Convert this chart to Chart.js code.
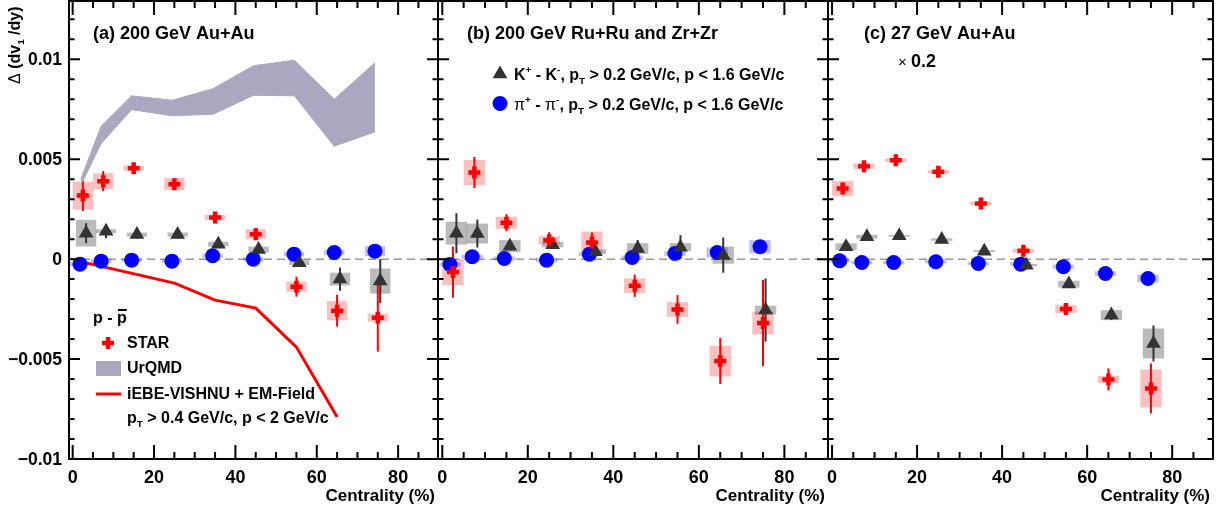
<!DOCTYPE html>
<html>
<head>
<meta charset="utf-8">
<script src="https://cdn.jsdelivr.net/npm/chart.js@4/dist/chart.umd.min.js"></script>
<style>
  html, body { margin: 0; padding: 0; background: #fff; }
  #wrap { position: relative; width: 1226px; height: 514px; }
  canvas { position: absolute; left: 0; top: 0; }
</style>
</head>
<body>
<div id="wrap">
  <canvas id="pa" width="1226" height="514"></canvas>
  <canvas id="pb" width="1226" height="514"></canvas>
  <canvas id="pc" width="1226" height="514"></canvas>
</div>
<script>
// centrality (%) of each species (slightly shifted like in the figure)
const centP  = [2.5, 7.5, 15, 25, 35, 45, 55, 65, 75];
const centK  = [3.3, 8.2, 15.8, 25.8, 35.8, 45.7, 55.7, 65.7, 75.6];
const centPi = [1.8, 7, 14.5, 24.4, 34.4, 44.4, 54.4, 64.3, 74.3];

// (a) 200 GeV Au+Au
const protonA     = [0.00318, 0.0039, 0.00455, 0.00375, 0.00208, 0.00125, -0.00138, -0.00258, -0.00293];
const protonAStat = [0.00077, 0.0005, 0.0002, 0.0002, 0.0002, 0.0003, 0.0005, 0.0008, 0.0017];
const protonASys  = [0.0007, 0.0004, 0.00013, 0.0003, 0.00013, 0.00025, 0.00025, 0.00048, 0.0002];
const kaonA       = [0.0013, 0.0014, 0.00123, 0.00123, 0.00075, 0.00048, -0.00018, -0.001, -0.0011];
const kaonAStat   = [0.0005, 0.00035, 0.0002, 0.0002, 0.0002, 0.0002, 0.0002, 0.00058, 0.0011];
const kaonASys    = [0.00067, 0.0001, 0.0001, 0.0001, 0.00012, 0.00015, 0.00012, 0.00032, 0.00063];
const pionA       = [-0.00025, -0.0001, -0.00005, -0.0001, 0.00017, 0.0, 0.00025, 0.00033, 0.0004];
const pionAStat   = [0.0001, 0.0001, 0.0001, 0.0001, 0.0001, 0.0001, 0.0001, 0.0001, 0.0001];
const pionASys    = [0.0001, 0.0001, 0.00008, 0.00008, 0.0001, 0.0001, 0.00012, 0.00012, 0.00025];

const urqmdCent = [2, 7, 14.5, 24.5, 34.5, 44.5, 54.5, 64.3, 74.3];
const urqmdHigh = [0.0040, 0.00665, 0.00817, 0.00795, 0.00853, 0.00968, 0.00995, 0.008, 0.00983];
const urqmdLow  = [0.0037, 0.00578, 0.00748, 0.00717, 0.00725, 0.0082, 0.00817, 0.00565, 0.00637];

const vishnuCent = [2.5, 25, 35, 45, 55, 65];
const vishnuVal  = [-0.00015, -0.0012, -0.00205, -0.00245, -0.0044, -0.0079];

// (b) 200 GeV Ru+Ru and Zr+Zr
const protonB     = [-0.00065, 0.00433, 0.00182, 0.00095, 0.00083, -0.00133, -0.00252, -0.0051, -0.0032];
const protonBStat = [0.00128, 0.00078, 0.00043, 0.0004, 0.0005, 0.00056, 0.00072, 0.00115, 0.00215];
const protonBSys  = [0.00065, 0.00063, 0.0003, 0.0002, 0.00055, 0.00037, 0.00037, 0.00077, 0.00057];
const kaonB       = [0.0013, 0.00128, 0.00065, 0.00072, 0.00037, 0.00053, 0.0006, 0.0002, -0.00255];
const kaonBStat   = [0.001, 0.0007, 0.0002, 0.0002, 0.0002, 0.00042, 0.0006, 0.00088, 0.00158];
const kaonBSys    = [0.00057, 0.0005, 0.0003, 0.00013, 0.00012, 0.00027, 0.0002, 0.00043, 0.00022];
const pionB       = [-0.00027, 0.00012, 0.00003, -0.00005, 0.00025, 0.00008, 0.00028, 0.00033, 0.00062];
const pionBStat   = [0.0001, 0.0001, 0.0001, 0.0001, 0.0001, 0.0001, 0.0001, 0.00015, 0.00035];
const pionBSys    = [0.0001, 0.0001, 0.0001, 0.0001, 0.0001, 0.0001, 0.00012, 0.00025, 0.00033];

// (c) 27 GeV Au+Au (x 0.2)
const protonC     = [0.00353, 0.00465, 0.00495, 0.00437, 0.00278, 0.00042, -0.0025, -0.00602, -0.00647];
const protonCStat = [0.0002, 0.0002, 0.0002, 0.0002, 0.0002, 0.0002, 0.0003, 0.00055, 0.00125];
const protonCSys  = [0.00038, 0.00013, 0.0001, 0.00008, 0.00008, 0.0001, 0.0002, 0.00018, 0.00095];
const kaonC       = [0.00062, 0.00112, 0.00117, 0.00098, 0.0004, -0.0003, -0.00125, -0.0028, -0.00422];
const kaonCStat   = [0.0001, 0.0001, 0.0001, 0.0001, 0.0001, 0.0001, 0.0001, 0.00025, 0.0009];
const kaonCSys    = [0.00017, 0.0001, 0.00004, 0.00006, 0.00005, 0.00006, 0.00017, 0.00025, 0.00075];
const pionC       = [-0.00008, -0.00017, -0.00017, -0.00013, -0.00022, -0.00025, -0.00038, -0.00072, -0.00097];
const pionCStat   = [0.0001, 0.0001, 0.0001, 0.0001, 0.0001, 0.0001, 0.0001, 0.0001, 0.0001];
const pionCSys    = [0.00008, 0.00008, 0.00008, 0.00008, 0.00008, 0.0001, 0.0001, 0.00012, 0.0002];

// axes
const xMajor = [0, 20, 40, 60, 80];
const xMajorLabels = ['0', '20', '40', '60', '80'];
const xMinor = [5, 10, 15, 25, 30, 35, 45, 50, 55, 65, 70, 75, 85];
const yMajor = [-0.01, -0.005, 0, 0.005, 0.01];
const yMajorLabels = ['\u22120.01', '\u22120.005', '0', '0.005', '0.01'];
const yMinor = [-0.009, -0.008, -0.007, -0.006, -0.004, -0.003, -0.002, -0.001,
                0.001, 0.002, 0.003, 0.004, 0.006, 0.007, 0.008, 0.009, 0.011, 0.012];
const yMin = -0.01, yMax = 0.012915;

const FONT = '"Liberation Sans", Arial, Helvetica, sans-serif';
const RED = '#ff0000', DARK = '#333333', BLUE = '#0000ff', URQMD = '#aaa7c1';
const boxHalf = 2.5;

function pts(xs, ys) { return xs.map((x, i) => ({ x: x, y: ys[i] })); }

function richText(ctx, x, y, segs, size) {
  let cx = x;
  segs.forEach(s => {
    const small = s.sub || s.sup;
    const fs = small ? size * 0.62 : size;
    ctx.font = (s.normal ? '' : 'bold ') + fs + 'px ' + FONT;
    const dy = s.sub ? size * 0.28 : s.sup ? -size * 0.42 : 0;
    ctx.fillText(s.t, cx, y + dy);
    cx += ctx.measureText(s.t).width;
  });
  return cx;
}

function drawTriangle(ctx, x, y, r) {
  ctx.beginPath();
  for (let k = 0; k < 3; k++) {
    const a = k * 2 * Math.PI / 3;
    const px = x + Math.sin(a) * r, py = y - Math.cos(a) * r;
    if (k === 0) ctx.moveTo(px, py); else ctx.lineTo(px, py);
  }
  ctx.closePath();
  ctx.fill();
}

function makeFramePlugin(panel) {
  return {
    id: 'frame',
    beforeDatasetsDraw(chart) {
      const { ctx, chartArea: a, scales: { x, y } } = chart;
      ctx.save();
      ctx.beginPath(); ctx.rect(a.left, a.top, a.width, a.height); ctx.clip();
      // dashed zero line
      const y0 = y.getPixelForValue(0);
      ctx.strokeStyle = '#999'; ctx.lineWidth = 1.5; ctx.setLineDash([8, 5]);
      ctx.beginPath(); ctx.moveTo(a.left, y0); ctx.lineTo(a.right, y0); ctx.stroke();
      ctx.setLineDash([]);
      // systematic boxes
      chart.data.datasets.forEach(ds => {
        if (!ds.sys) return;
        ctx.fillStyle = ds.boxColor;
        ds.data.forEach((p, i) => {
          const x0 = x.getPixelForValue(p.x - boxHalf), x1 = x.getPixelForValue(p.x + boxHalf);
          const yt = y.getPixelForValue(p.y + ds.sys[i]), yb = y.getPixelForValue(p.y - ds.sys[i]);
          ctx.fillRect(x0, yt, x1 - x0, yb - yt);
        });
      });
      // statistical error bars
      chart.data.datasets.forEach(ds => {
        if (!ds.stat) return;
        ctx.strokeStyle = ds.barColor; ctx.lineWidth = 2;
        ds.data.forEach((p, i) => {
          const px = x.getPixelForValue(p.x);
          ctx.beginPath();
          ctx.moveTo(px, y.getPixelForValue(p.y + ds.stat[i]));
          ctx.lineTo(px, y.getPixelForValue(p.y - ds.stat[i]));
          ctx.stroke();
        });
      });
      ctx.restore();
    },
    afterDraw(chart) {
      const { ctx, chartArea: a, scales: { x, y } } = chart;
      ctx.save();
      ctx.strokeStyle = '#000'; ctx.lineWidth = 2;
      ctx.beginPath();
      xMajor.forEach(v => {
        const px = x.getPixelForValue(v);
        ctx.moveTo(px, a.bottom); ctx.lineTo(px, a.bottom - 14);
        ctx.moveTo(px, a.top); ctx.lineTo(px, a.top + 14);
      });
      xMinor.forEach(v => {
        const px = x.getPixelForValue(v);
        ctx.moveTo(px, a.bottom); ctx.lineTo(px, a.bottom - 7);
        ctx.moveTo(px, a.top); ctx.lineTo(px, a.top + 7);
      });
      yMajor.forEach(v => {
        const py = y.getPixelForValue(v);
        ctx.moveTo(a.left, py); ctx.lineTo(a.left + 11, py);
        ctx.moveTo(a.right, py); ctx.lineTo(a.right - 11, py);
      });
      yMinor.forEach(v => {
        const py = y.getPixelForValue(v);
        ctx.moveTo(a.left, py); ctx.lineTo(a.left + 5.5, py);
        ctx.moveTo(a.right, py); ctx.lineTo(a.right - 5.5, py);
      });
      ctx.stroke();
      ctx.strokeRect(a.left, a.top, a.width, a.height);

      ctx.fillStyle = '#000';
      ctx.textBaseline = 'alphabetic';
      ctx.font = 'bold 18px ' + FONT;
      ctx.textAlign = 'center';
      xMajor.forEach((v, i) => ctx.fillText(xMajorLabels[i], x.getPixelForValue(v), 483));
      ctx.font = 'bold 17px ' + FONT;
      ctx.textAlign = 'right';
      ctx.fillText('Centrality (%)', a.right - 3, 501);

      if (panel.yLabels) {
        ctx.font = 'bold 17.5px ' + FONT;
        ctx.textBaseline = 'middle';
        yMajor.forEach((v, i) => ctx.fillText(yMajorLabels[i], a.left - 7, y.getPixelForValue(v) + 1));
        ctx.textBaseline = 'alphabetic';
        ctx.textAlign = 'left';
        ctx.save();
        ctx.translate(20, 84);
        ctx.rotate(-Math.PI / 2);
        richText(ctx, 0, 0, [{ t: '\u0394 ', normal: true }, { t: '(dv' }, { t: '1', sub: true }, { t: ' /dy)' }], 16);
        ctx.restore();
      }

      ctx.textAlign = 'left';
      ctx.textBaseline = 'alphabetic';
      ctx.font = 'bold 18px ' + FONT;
      ctx.fillText(panel.title, panel.titleX, 39);
      if (panel.extra) panel.extra(ctx);
      ctx.restore();
    }
  };
}

function legendA(ctx) {
  ctx.fillStyle = '#000';
  ctx.font = 'bold 16px ' + FONT;
  const w1 = ctx.measureText('p - ').width;
  const w2 = ctx.measureText('p').width;
  ctx.fillText('p - p', 93, 323);
  ctx.fillRect(93 + w1 + 1, 309, w2 - 1, 2);
  // STAR cross
  ctx.strokeStyle = RED; ctx.lineWidth = 4.5;
  ctx.beginPath();
  ctx.moveTo(102, 343); ctx.lineTo(114, 343);
  ctx.moveTo(108, 337); ctx.lineTo(108, 349);
  ctx.stroke();
  ctx.fillStyle = URQMD;
  ctx.fillRect(96, 361, 25, 15);
  ctx.strokeStyle = RED; ctx.lineWidth = 3;
  ctx.beginPath(); ctx.moveTo(96, 394); ctx.lineTo(121, 394); ctx.stroke();
  ctx.fillStyle = '#000';
  ctx.fillText('STAR', 127, 348);
  ctx.fillText('UrQMD', 127, 373);
  ctx.fillText('iEBE-VISHNU + EM-Field', 127, 399);
  richText(ctx, 127, 423, [{ t: 'p' }, { t: 'T', sub: true }, { t: ' > 0.4 GeV/c, p < 2 GeV/c' }], 16);
}

function legendB(ctx) {
  ctx.fillStyle = DARK;
  drawTriangle(ctx, 500, 74, 8.5);
  ctx.fillStyle = BLUE;
  ctx.beginPath(); ctx.arc(500, 103.5, 7.5, 0, 2 * Math.PI); ctx.fill();
  ctx.fillStyle = '#000';
  richText(ctx, 514, 80, [{ t: 'K' }, { t: '+', sup: true }, { t: ' - K' }, { t: '-', sup: true },
    { t: ', p' }, { t: 'T', sub: true }, { t: ' > 0.2 GeV/c, p < 1.6 GeV/c' }], 16);
  richText(ctx, 514, 110, [{ t: '\u03c0', normal: true }, { t: '+', sup: true }, { t: ' - ' }, { t: '\u03c0', normal: true },
    { t: '-', sup: true }, { t: ', p' }, { t: 'T', sub: true }, { t: ' > 0.2 GeV/c, p < 1.6 GeV/c' }], 16);
}

function legendC(ctx) {
  ctx.fillStyle = '#000';
  ctx.font = '15px ' + FONT;
  ctx.fillText('\u00d7', 898, 67);
  ctx.font = 'bold 18px ' + FONT;
  ctx.fillText('0.2', 911, 67);
}

function speciesSets(pv, pStat, pSys, kv, kStat, kSys, piv, piStat, piSys) {
  return [
    { label: 'p', data: pts(centP, pv), stat: pStat, sys: pSys,
      boxColor: 'rgba(255,0,0,0.25)', barColor: RED,
      pointStyle: 'cross', pointRadius: 6, pointBorderWidth: 4.5, pointBorderColor: RED,
      pointBackgroundColor: RED, showLine: false, order: 1 },
    { label: 'K', data: pts(centK, kv), stat: kStat, sys: kSys,
      boxColor: 'rgba(0,0,0,0.27)', barColor: DARK,
      pointStyle: 'triangle', pointRadius: 8.5, pointBorderWidth: 0, pointBorderColor: DARK,
      pointBackgroundColor: DARK, showLine: false, order: 2 },
    { label: 'pi', data: pts(centPi, piv), stat: piStat, sys: piSys,
      boxColor: 'rgba(0,0,255,0.25)', barColor: BLUE,
      pointStyle: 'circle', pointRadius: 7.5, pointBorderWidth: 0, pointBorderColor: BLUE,
      pointBackgroundColor: BLUE, showLine: false, order: 3 }
  ];
}

const panels = [
  { id: 'pa', left: 69, right: 438, xMin: -0.9, xMax: 89.8, yLabels: true,
    title: '(a) 200 GeV Au+Au', titleX: 93, extra: legendA,
    datasets: speciesSets(protonA, protonAStat, protonASys, kaonA, kaonAStat, kaonASys, pionA, pionAStat, pionASys).concat([
      { label: 'UrQMD high', type: 'line', data: pts(urqmdCent, urqmdHigh), borderColor: URQMD, borderWidth: 1,
        backgroundColor: URQMD, fill: '+1', pointRadius: 0, tension: 0, order: 5 },
      { label: 'UrQMD low', type: 'line', data: pts(urqmdCent, urqmdLow), borderColor: URQMD, borderWidth: 1,
        fill: false, pointRadius: 0, tension: 0, order: 6 },
      { label: 'iEBE-VISHNU', type: 'line', data: pts(vishnuCent, vishnuVal), borderColor: RED, borderWidth: 3,
        fill: false, pointRadius: 0, tension: 0, order: 4 }
    ]) },
  { id: 'pb', left: 438, right: 828, xMin: -1.0, xMax: 90.2, yLabels: false,
    title: '(b) 200 GeV Ru+Ru and Zr+Zr', titleX: 467, extra: legendB,
    datasets: speciesSets(protonB, protonBStat, protonBSys, kaonB, kaonBStat, kaonBSys, pionB, pionBStat, pionBSys) },
  { id: 'pc', left: 828, right: 1213, xMin: -0.95, xMax: 89.6, yLabels: false,
    title: '(c) 27 GeV Au+Au', titleX: 864, extra: legendC,
    datasets: speciesSets(protonC, protonCStat, protonCSys, kaonC, kaonCStat, kaonCSys, pionC, pionCStat, pionCSys) }
];

panels.forEach(panel => {
  const ctx = document.getElementById(panel.id).getContext('2d');
  new Chart(ctx, {
    type: 'scatter',
    data: { datasets: panel.datasets },
    options: {
      responsive: false,
      animation: false,
      events: [],
      layout: { autoPadding: false, padding: { left: panel.left, right: 1226 - panel.right, top: 1, bottom: 514 - 459 } },
      plugins: { legend: { display: false }, tooltip: { enabled: false } },
      scales: {
        x: { type: 'linear', min: panel.xMin, max: panel.xMax, display: false },
        y: { type: 'linear', min: yMin, max: yMax, display: false }
      }
    },
    plugins: [makeFramePlugin(panel)]
  });
});
</script>
</body>
</html>
